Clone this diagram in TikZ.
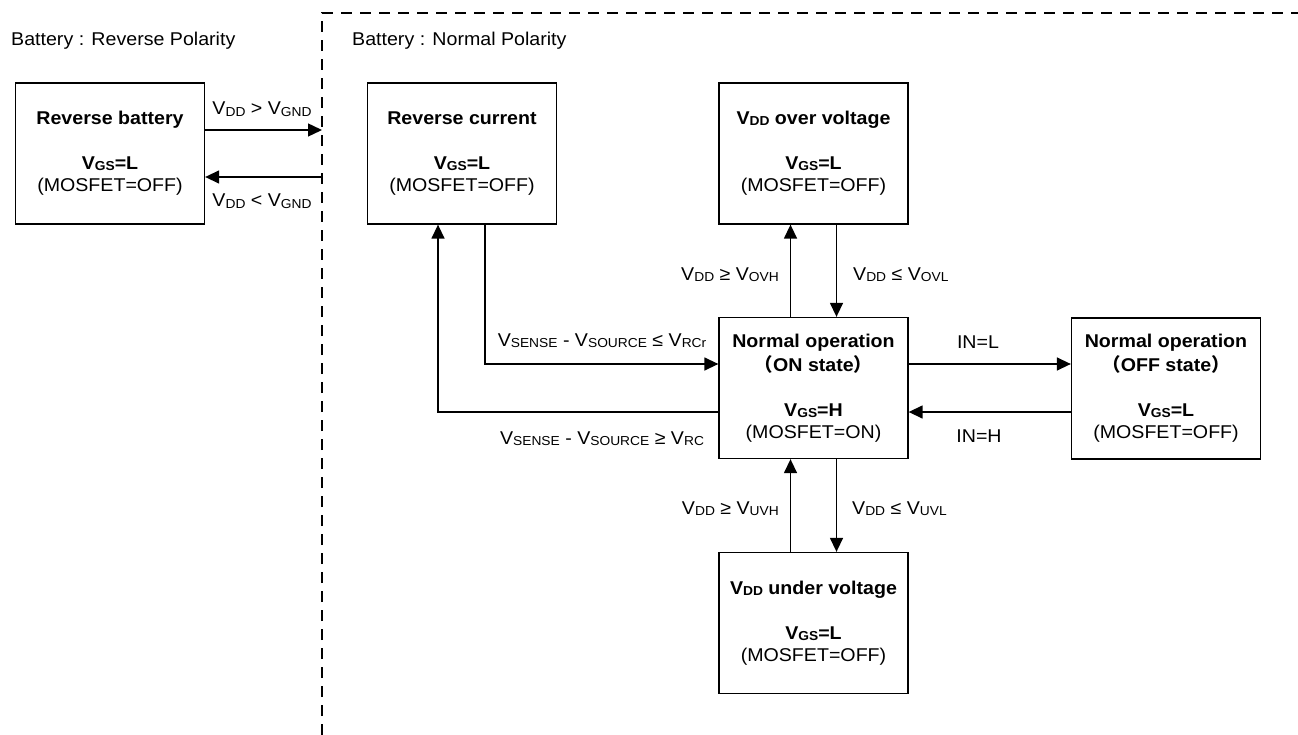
\documentclass[tikz,border=0pt]{standalone}
\usepackage{fontspec}
\setmainfont{Liberation Sans}[FakeStretch=1.06]
\newfontfamily\cjk{Noto Sans CJK JP}
\usetikzlibrary{arrows.meta}
\newcommand{\sbs}[1]{\raisebox{-1.2pt}{\fontsize{13}{13}\selectfont #1}}
\newcommand{\fwl}{{\cjk （}}
\newcommand{\fwr}{{\cjk ）}}
\begin{document}
\begin{tikzpicture}[x=1pt,y=-1pt,
  every node/.style={font=\fontsize{18.5}{22}\selectfont, inner sep=0pt},
  statebox/.style={draw, line width=1.3pt, minimum width=189pt, minimum height=141pt, align=center},
  arr/.style={line width=1.4pt, -{Triangle[length=14pt,width=13pt]}},
  divider/.style={line width=1.2pt, dash pattern=on 11pt off 8pt},
  lbl/.style={anchor=base}]
\useasboundingbox (0,0) rectangle (1298,735);

% divider
\coordinate (dtop) at (322,13);
\coordinate (dbot) at (322,735);
\coordinate (dright) at (1298,13);
\draw[divider] (dbot) -- (dtop) -- (dright);

\node[anchor=base west] (tRev) at (11,46) {Battery : Reverse Polarity};
\node[anchor=base west] (tNorm) at (352,46) {Battery : Normal Polarity};

% boxes
\node[statebox] (rb) at (110,153.5) {\textbf{Reverse battery}\\[23pt]\textbf{V\sbs{GS}=L}\\(MOSFET=OFF)};
\node[statebox] (rc) at (462,153.5) {\textbf{Reverse current}\\[23pt]\textbf{V\sbs{GS}=L}\\(MOSFET=OFF)};
\node[statebox] (ov) at (813.5,153.5) {\textbf{V\sbs{DD} over voltage}\\[23pt]\textbf{V\sbs{GS}=L}\\(MOSFET=OFF)};
\node[statebox] (on) at (813.5,388) {\textbf{Normal operation}\\[2pt]\textbf{\fwl ON state\fwr}\\[23pt]\textbf{V\sbs{GS}=H}\\(MOSFET=ON)};
\node[statebox] (off) at (1166,388.5) {\textbf{Normal operation}\\[2pt]\textbf{\fwl OFF state\fwr}\\[23pt]\textbf{V\sbs{GS}=L}\\(MOSFET=OFF)};
\node[statebox] (uv) at (813.5,623) {\textbf{V\sbs{DD} under voltage}\\[23pt]\textbf{V\sbs{GS}=L}\\(MOSFET=OFF)};

% reverse battery <-> divider
\coordinate (d1) at (322,130);
\coordinate (d2) at (322,177);
\draw[arr] (rb.east |- d1) -- (d1);
\draw[arr] (d2) -- (rb.east |- d2);
\node[lbl] (lgt) at (262,115) {V\sbs{DD} {>} V\sbs{GND}};
\node[lbl] (llt) at (262,207) {V\sbs{DD} {<} V\sbs{GND}};

% reverse current <-> on
\draw[arr] ([xshift=23pt]rc.south) |- ([yshift=24pt]on.west);
\draw[arr] ([yshift=-24pt]on.west) -| ([xshift=-24pt]rc.south);
\node[lbl] (lrcr) at (602,346) {V\sbs{SENSE} - V\sbs{SOURCE} ≤ V\sbs{RCr}};
\node[lbl] (lrc) at (602,444) {V\sbs{SENSE} - V\sbs{SOURCE} ≥ V\sbs{RC}};

% on <-> ov
\draw[arr] ([xshift=-23pt]on.north) -- ([xshift=-23pt]ov.south);
\draw[arr] ([xshift=23pt]ov.south) -- ([xshift=23pt]on.north);
\node[lbl, anchor=base east] (lovh) at (779,280) {V\sbs{DD} ≥ V\sbs{OVH}};
\node[lbl, anchor=base west] (lovl) at (853,280) {V\sbs{DD} ≤ V\sbs{OVL}};

% on <-> off
\draw[arr] ([yshift=24pt]on.east) -- ([yshift=24pt]on.east -| off.west);
\draw[arr] ([yshift=-24pt]on.east -| off.west) -- ([yshift=-24pt]on.east);
\node[lbl] (linl) at (978,348) {IN=L};
\node[lbl] (linh) at (979,442) {IN=H};

% on <-> uv
\draw[arr] ([xshift=-23pt]uv.north) -- ([xshift=-23pt]on.south);
\draw[arr] ([xshift=23pt]on.south) -- ([xshift=23pt]uv.north);
\node[lbl, anchor=base east] (luvh) at (779,514) {V\sbs{DD} ≥ V\sbs{UVH}};
\node[lbl, anchor=base west] (luvl) at (852,514) {V\sbs{DD} ≤ V\sbs{UVL}};
\end{tikzpicture}
\end{document}
